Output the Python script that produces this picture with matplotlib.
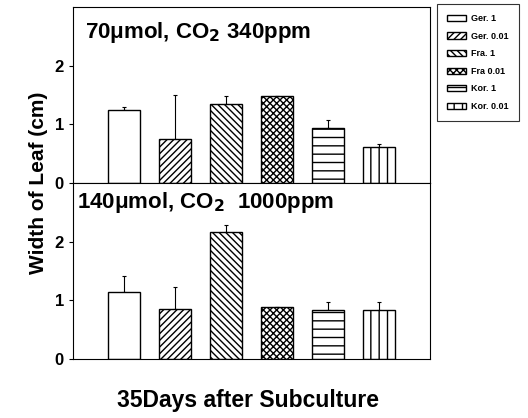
import numpy as np
import matplotlib
matplotlib.use("Agg")
import matplotlib.pyplot as plt

plt.rcParams['font.family'] = ['Liberation Sans', 'DejaVu Sans']
plt.rcParams['font.weight'] = 'bold'
plt.rcParams['hatch.linewidth'] = 1.0

labels = ['Ger. 1', 'Ger. 0.01', 'Fra. 1', 'Fra 0.01', 'Kor. 1', 'Kor. 0.01']
hatches = ['', '/////', '\\\\\\\\\\', 'xxxxx', '--', '||']

top_vals = [1.25, 0.75, 1.35, 1.49, 0.94, 0.62]
top_err = [0.05, 0.75, 0.13, 0.0, 0.14, 0.05]
bot_vals = [1.15, 0.86, 2.16, 0.89, 0.84, 0.84]
bot_err = [0.26, 0.36, 0.12, 0.0, 0.14, 0.14]

titles = ['70\u03bcmol, CO$_\\mathbf{2}$ 340ppm', '140\u03bcmol, CO$_\\mathbf{2}$  1000ppm']
title_pos = [(0.034, 0.925), (0.011, 0.96)]

fig = plt.figure(figsize=(5.28, 4.18), dpi=100)
ax1 = fig.add_axes([0.138, 0.562, 0.676, 0.421])
ax2 = fig.add_axes([0.138, 0.141, 0.676, 0.421])

x = np.arange(1, 7)
handles = None
for ax, vals, err, title, pos in [(ax1, top_vals, top_err, titles[0], title_pos[0]),
                                  (ax2, bot_vals, bot_err, titles[1], title_pos[1])]:
    bars = ax.bar(x, vals, width=0.62, color='white', edgecolor='black',
                  linewidth=1.0, zorder=2)
    for b, h in zip(bars, hatches):
        b.set_hatch(h)
    ax.errorbar(x, vals, yerr=[np.zeros(6), err], fmt='none', ecolor='black',
                elinewidth=0.8, capsize=1.5, capthick=0.8, zorder=1)
    ax.set_xlim(0, 7)
    ax.set_ylim(0, 3)
    ax.set_yticks([0, 1, 2])
    ax.set_xticks([])
    ax.tick_params(axis='y', labelsize=12, direction='out', length=3)
    for lab in ax.get_yticklabels():
        lab.set_fontweight('bold')
    ax.text(pos[0], pos[1], title, transform=ax.transAxes, fontsize=16,
            fontweight='bold', va='top', ha='left')
    if handles is None:
        handles = bars

fig.text(0.072, 0.562, 'Width of Leaf (cm)', rotation=90, fontsize=15,
         fontweight='bold', ha='center', va='center')
fig.text(0.469, 0.043, '35Days after Subculture', fontsize=16.5,
         fontweight='bold', ha='center', va='center')

leg = fig.legend(handles, labels, loc='upper left',
                 bbox_to_anchor=(0.828, 0.99), prop={'size': 6.5, 'weight': 'bold'},
                 handlelength=2.1, handleheight=0.7, labelspacing=0.95,
                 frameon=True, fancybox=False, edgecolor='black',
                 borderpad=1.1, handletextpad=0.6, borderaxespad=0)
leg.get_frame().set_linewidth(0.8)

fig.savefig('out.png', dpi=100)
